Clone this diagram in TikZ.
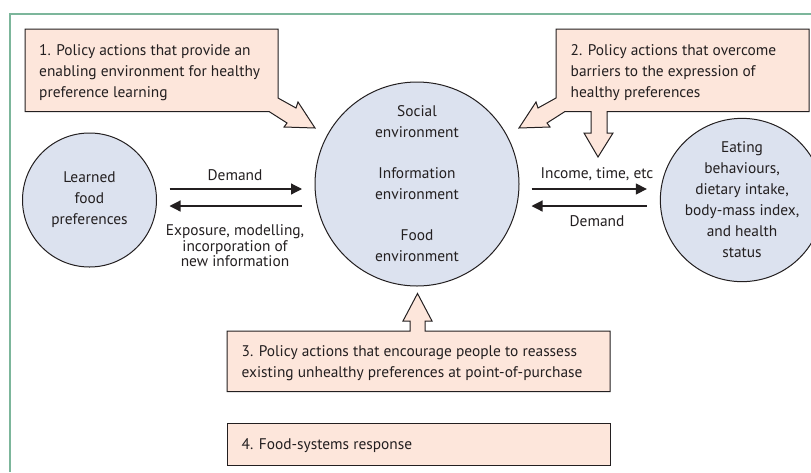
\documentclass[tikz,border=0pt]{standalone}
\usepackage{fontspec}
\setmainfont{PT Sans}
\usetikzlibrary{arrows.meta}
\definecolor{peach}{HTML}{FDE6DB}
\definecolor{bluegray}{HTML}{DCE2EF}
\definecolor{ink}{HTML}{231F20}
\definecolor{frame}{HTML}{7CB69B}
\tikzset{
  callout/.style={fill=peach, draw=ink, line width=1pt, line join=miter},
  env/.style={circle, fill=bluegray, draw=ink, line width=1pt, inner sep=0pt, align=center, font=\fontsize{15.4}{21}\selectfont, text=ink},
  boxtext/.style={anchor=north west, inner sep=0pt, align=left, font=\fontsize{15.4}{21}\selectfont, text=ink},
  lbl/.style={inner sep=0pt, align=center, font=\fontsize{15.4}{15.5}\selectfont, text=ink},
  flow/.style={draw=ink, line width=1.2pt, -{Triangle[length=11pt, width=11pt]}}
}
\begin{document}
\begin{tikzpicture}[x=1pt, y=-1pt]
\useasboundingbox (0,0) rectangle (811,472);
% frame
\draw[frame, line width=1.2pt] (811,14) -- (10,14) -- (10,472);
% callout 1
\draw[callout] (25,29) -- (278,29) -- (278,98) -- (296,108) -- (298,102) -- (315,128) -- (284,127) -- (287,123) -- (269,111.5) -- (25,111.5) -- cycle;
\node[boxtext] (t1) at (39,44) {1. Policy actions that provide an\\enabling environment for healthy\\preference learning};
% callout 2
\draw[callout] (556,29) -- (809,29) -- (809,111.5) -- (607,111.5) -- (607,133) -- (613,133) -- (598,157) -- (584,133) -- (591,133) -- (591,111.5) -- (565,111.5) -- (547,123) -- (550,127) -- (519,128) -- (536,102) -- (538,108) -- (556,98) -- cycle;
\node[boxtext] (t2) at (570.5,44) {2. Policy actions that overcome\\barriers to the expression of\\healthy preferences};
% callout 3
\draw[callout] (227,331) -- (410,331) -- (410,321) -- (403,321) -- (417.5,293.5) -- (432,321) -- (425,321) -- (425,331) -- (610,331) -- (610,391.5) -- (227,391.5) -- cycle;
\node[boxtext] (t3) at (241.5,345.5) {3. Policy actions that encourage people to reassess\\existing unhealthy preferences at point-of-purchase};
% box 4
\draw[callout] (227,423) rectangle (610,465.5);
\node[boxtext] (t4) at (241.5,438) {4. Food-systems response};
% circles
\node[env, minimum size=134pt] (learned) at (89.5,200) {Learned\\food\\preferences};
\node[env, minimum size=204pt] (envc) at (417,184) {Social\\environment\\[20pt]Information\\environment\\[20pt]Food\\environment};
\node[env, minimum size=132pt] (eating) at (742,200) {Eating\\behaviours,\\dietary intake,\\body-mass index,\\and health\\status};
% flows
\draw[flow, shorten <=12.5pt, shorten >=12.5pt] (learned.east |- {(0,189)}) -- (envc.west |- {(0,189)});
\draw[flow, shorten <=12.5pt, shorten >=12.5pt] (envc.west |- {(0,206)}) -- (learned.east |- {(0,206)});
\draw[flow, shorten <=12pt, shorten >=13pt] (envc.east |- {(0,189)}) -- (eating.west |- {(0,189)});
\draw[flow, shorten <=13pt, shorten >=12pt] (eating.west |- {(0,206)}) -- (envc.east |- {(0,206)});
\node[lbl] (d1) at (235,175.5) {Demand};
\node[lbl] (ex) at (235,246) {Exposure, modelling,\\incorporation of\\new information};
\node[lbl] (inc) at (597,174.5) {Income, time, etc};
\node[lbl] (d2) at (597,221) {Demand};
\end{tikzpicture}
\end{document}
